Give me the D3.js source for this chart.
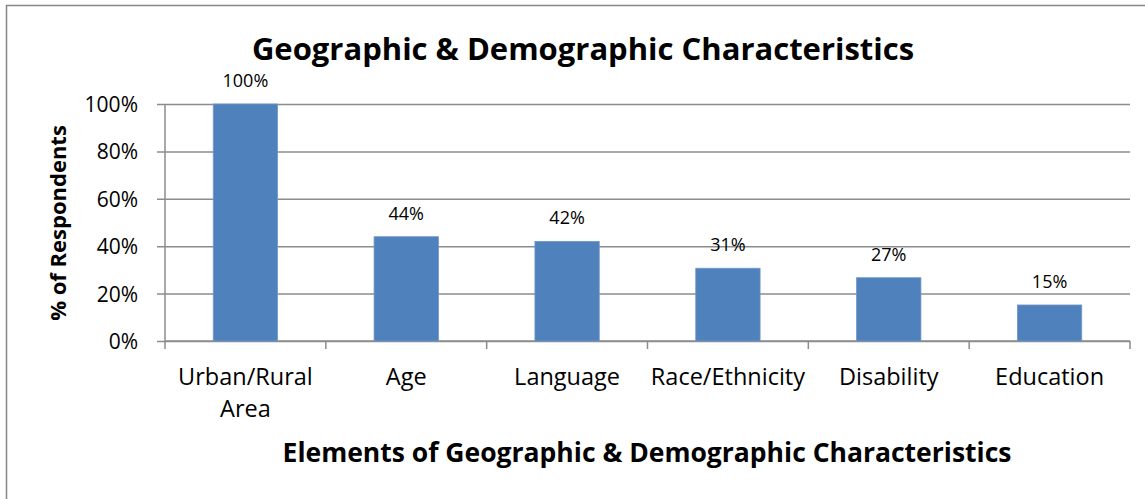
<!DOCTYPE html>
<html>
<head>
<meta charset="utf-8">
<script src="https://cdn.jsdelivr.net/npm/d3@7"></script>
<style>
  body { margin: 0; background: #fff; overflow: hidden; }
  svg { display: block; }
  text { font-family: "Open Sans", sans-serif; fill: #000; }
</style>
</head>
<body>
<svg width="1145" height="499"></svg>
<script>
const categories = [["Urban/Rural", "Area"], ["Age"], ["Language"], ["Race/Ethnicity"], ["Disability"], ["Education"]];
const values = [1.0, 0.44, 0.42, 0.307, 0.267, 0.152];
const yTicks = [0, 0.2, 0.4, 0.6, 0.8, 1.0];

const svg = d3.select("svg");
const width = +svg.attr("width");
const height = +svg.attr("height");

const margin = { top: 104, right: 15, bottom: 158, left: 165 };
const innerWidth = width - margin.left - margin.right;
const innerHeight = height - margin.top - margin.bottom;

// chart frame: top and left edge only, the rest runs off the picture
svg.append("path")
  .attr("d", `M6.5,${height} V5.5 H${width}`)
  .attr("fill", "none")
  .attr("stroke", "#868686")
  .attr("stroke-width", 1.5);

const xScale = d3.scaleBand()
  .domain(d3.range(categories.length))
  .range([0, innerWidth])
  .padding(0);
const yScale = d3.scaleLinear()
  .domain([0, 1])
  .range([innerHeight, 0]);

const g = svg.append("g")
  .attr("transform", `translate(${margin.left},${margin.top})`);

// y axis + gridlines
const yAxis = d3.axisLeft(yScale)
  .tickValues(yTicks)
  .tickFormat(d3.format(".0%"))
  .tickSize(-innerWidth);
const yAxisG = g.append("g").call(yAxis);
yAxisG.select(".domain").remove();
yAxisG.selectAll(".tick line")
  .attr("x1", -8)
  .attr("stroke", "#8c8c8c")
  .attr("stroke-width", 1.5);
yAxisG.selectAll(".tick text")
  .attr("x", -27)
  .attr("dy", "0.36em")
  .style("font-size", "21px");
g.append("line")
  .attr("x1", 0).attr("x2", 0)
  .attr("y1", 0).attr("y2", innerHeight)
  .attr("stroke", "#8c8c8c").attr("stroke-width", 1.5);

// x axis
const xAxisG = g.append("g").attr("transform", `translate(0,${innerHeight})`);
xAxisG.append("line")
  .attr("x1", 0).attr("x2", innerWidth)
  .attr("stroke", "#8c8c8c").attr("stroke-width", 1.5);
xAxisG.selectAll(".xtick")
  .data(d3.range(categories.length + 1))
  .enter()
  .append("line")
  .attr("x1", (d) => d * xScale.step())
  .attr("x2", (d) => d * xScale.step())
  .attr("y1", 0).attr("y2", 8)
  .attr("stroke", "#8c8c8c").attr("stroke-width", 1.5);
const catText = xAxisG.selectAll(".cat")
  .data(categories)
  .enter()
  .append("text")
  .attr("text-anchor", "middle")
  .attr("transform", (d, i) => `translate(${xScale(i) + xScale.bandwidth() / 2},44)`)
  .style("font-size", "23.5px");
catText.selectAll("tspan")
  .data((d) => d)
  .enter()
  .append("tspan")
  .attr("x", 0)
  .attr("dy", (d, i) => (i === 0 ? 0 : 32))
  .text((d) => d);

// bars
const barW = xScale.bandwidth() * 0.4;
g.selectAll("rect.bar")
  .data(values)
  .enter()
  .append("rect")
  .attr("class", "bar")
  .attr("x", (d, i) => xScale(i) + (xScale.bandwidth() - barW) / 2)
  .attr("y", (d) => yScale(d))
  .attr("width", barW)
  .attr("height", (d) => innerHeight - yScale(d))
  .attr("fill", "#4f81bd")
  .attr("stroke", "#6f97c9")
  .attr("stroke-width", 0.8);

// value labels
g.selectAll("text.val")
  .data(values)
  .enter()
  .append("text")
  .attr("class", "val")
  .attr("text-anchor", "middle")
  .attr("x", (d, i) => xScale(i) + xScale.bandwidth() / 2)
  .attr("y", (d) => yScale(d) - 17)
  .style("font-size", "18px")
  .text((d) => d3.format(".0%")(d));

// titles
svg.append("text")
  .attr("x", 583).attr("y", 60)
  .attr("text-anchor", "middle")
  .style("font-size", "31px")
  .style("font-weight", "bold")
  .text("Geographic & Demographic Characteristics");

svg.append("text")
  .attr("x", 647).attr("y", 462)
  .attr("text-anchor", "middle")
  .style("font-size", "26.5px")
  .style("font-weight", "bold")
  .text("Elements of Geographic & Demographic Characteristics");

svg.append("text")
  .attr("transform", "translate(66,223) rotate(-90)")
  .attr("text-anchor", "middle")
  .style("font-size", "22px")
  .style("font-weight", "bold")
  .text("% of Respondents");
</script>
</body>
</html>
